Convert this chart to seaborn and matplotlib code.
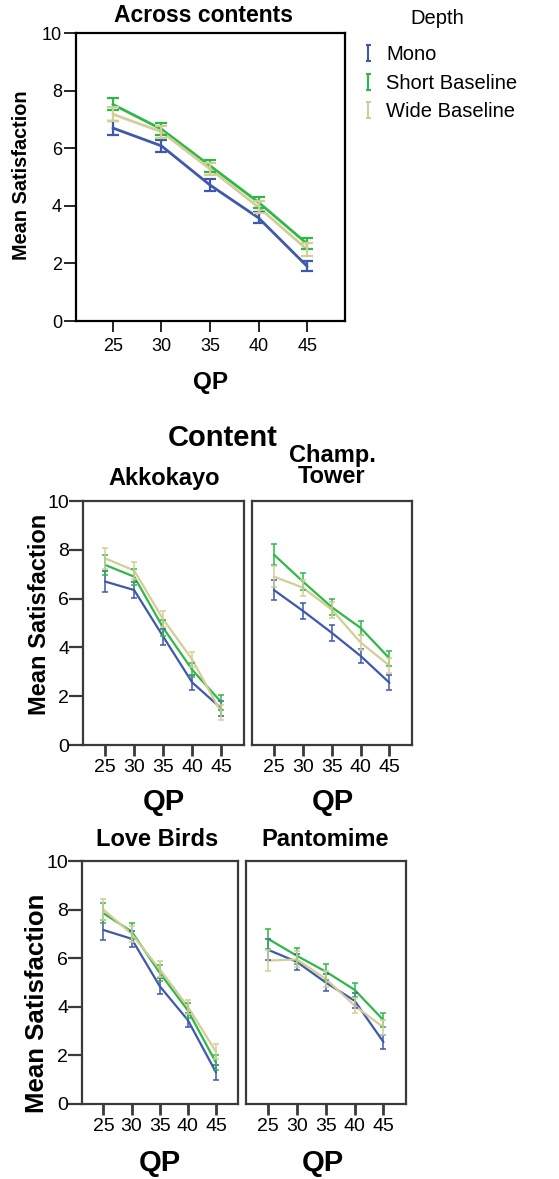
import numpy as np
import pandas as pd
import matplotlib
matplotlib.use("Agg")
import matplotlib.pyplot as plt
import seaborn as sns
from matplotlib.path import Path
from matplotlib.lines import Line2D

# ---------------- data ----------------
qp = [25, 30, 35, 40, 45]
depths = ["Mono", "Short Baseline", "Wide Baseline"]
colors = ["#3E58AC", "#2EB848", "#D3CE97"]

# Across contents
all_mono = [6.70, 6.08, 4.72, 3.58, 1.90]
all_mono_err = [0.23, 0.20, 0.20, 0.19, 0.18]
all_short = [7.52, 6.66, 5.39, 4.12, 2.68]
all_short_err = [0.21, 0.20, 0.20, 0.20, 0.19]
all_wide = [7.18, 6.57, 5.28, 3.95, 2.48]
all_wide_err = [0.25, 0.20, 0.20, 0.20, 0.22]

contents = ["Akkokayo", "Champ.\nTower", "Love Birds", "Pantomime"]

akk_mono = [6.70, 6.35, 4.44, 2.56, 1.50]
akk_short = [7.38, 6.90, 4.80, 3.08, 1.75]
akk_wide = [7.65, 7.15, 5.15, 3.50, 1.32]

champ_mono = [6.35, 5.50, 4.60, 3.65, 2.55]
champ_short = [7.80, 6.70, 5.65, 4.80, 3.55]
champ_wide = [6.90, 6.45, 5.55, 4.20, 3.25]

love_mono = [7.16, 6.80, 4.85, 3.45, 1.30]
love_short = [7.85, 7.10, 5.40, 3.85, 1.70]
love_wide = [8.00, 7.00, 5.55, 4.00, 2.15]

panto_mono = [6.35, 5.85, 5.00, 4.25, 2.55]
panto_short = [6.80, 6.10, 5.45, 4.70, 3.45]
panto_wide = [5.90, 5.95, 5.15, 4.05, 3.15]

facet_err = [0.42, 0.33, 0.33, 0.30, 0.30]

yticks = [0, 2, 4, 6, 8, 10]

# ---------------- style ----------------
sns.set_style("white")
plt.rcParams["font.family"] = ["Liberation Sans", "DejaVu Sans"]
plt.rcParams["text.color"] = "black"
plt.rcParams["axes.labelcolor"] = "black"
plt.rcParams["xtick.color"] = "black"
plt.rcParams["ytick.color"] = "black"
palette = dict(zip(depths, colors))

fig = plt.figure(figsize=(5.59, 11.79), dpi=100)
W, H = 559.0, 1179.0


def px_axes(left, top, right, bottom):
    return fig.add_axes([left / W, 1 - bottom / H, (right - left) / W, (bottom - top) / H])


def long_df(series):
    rows = []
    for name, vals in zip(depths, series):
        for q, v in zip(qp, vals):
            rows.append({"QP": q, "Satisfaction": v, "Depth": name})
    return pd.DataFrame(rows)


def draw_panel(ax, series, errs, lw, cap, elw):
    df = long_df(series)
    sns.lineplot(data=df, x="QP", y="Satisfaction", hue="Depth", hue_order=depths,
                 palette=palette, linewidth=lw, legend=False, errorbar=None, ax=ax)
    for name, vals, err in zip(depths, series, errs):
        ax.errorbar(qp, vals, yerr=err, fmt="none", ecolor=palette[name],
                    elinewidth=elw, capsize=cap, capthick=elw)
    ax.set_xlim(21.2, 48.9)
    ax.set_ylim(0, 10)
    ax.set_xticks(qp)
    ax.set_yticks(yticks)
    ax.set_xlabel("")
    ax.set_ylabel("")


# ---------------- top panel ----------------
ax0 = px_axes(76, 33, 345, 321)
draw_panel(ax0, [all_mono, all_short, all_wide],
           [all_mono_err, all_short_err, all_wide_err], lw=2.0, cap=4, elw=1.6)
for s in ax0.spines.values():
    s.set_color("black")
    s.set_linewidth(1.6)
ax0.tick_params(axis="both", direction="out", bottom=True, left=True,
                width=1.2, color="black", labelsize=13, labelcolor="black")
ax0.tick_params(axis="y", length=9, pad=1)
ax0.tick_params(axis="x", length=8, pad=4)

fig.text(203 / W, 1 - 15 / H, "Across contents", ha="center", va="center",
         fontsize=16.5, fontweight="bold")
fig.text(22 / W, 1 - 175 / H, "Mean Satisfaction", ha="center", va="center",
         rotation=90, fontsize=14.3, fontweight="bold")
fig.text(210 / W, 1 - 382 / H, "QP", ha="center", va="center",
         fontsize=17.5, fontweight="bold")

# legend with error-bar glyphs
ibar = Path([(-0.3, -1), (0.3, -1), (0, -1), (0, 1), (-0.3, 1), (0.3, 1)],
            [Path.MOVETO, Path.LINETO, Path.MOVETO, Path.LINETO, Path.MOVETO, Path.LINETO])
handles = [Line2D([], [], linestyle="none", marker=ibar, markersize=12,
                  markeredgewidth=1.5, markeredgecolor=c, color=c) for c in colors]
fig.text(437 / W, 1 - 18 / H, "Depth", ha="center", va="center", fontsize=14.5)
leg = fig.legend(handles, depths, loc="upper left",
                 bbox_to_anchor=(360 / W, 1 - 45.5 / H), frameon=False,
                 fontsize=14.5, handlelength=0.8,
                 handletextpad=0.5, labelspacing=0.45, borderpad=0, borderaxespad=0)

# ---------------- facet panels ----------------
boxes = [(83, 501, 244, 745), (252, 501, 412, 745),
         (82, 861, 238, 1104), (246, 861, 406, 1104)]
facet_series = [[akk_mono, akk_short, akk_wide],
                [champ_mono, champ_short, champ_wide],
                [love_mono, love_short, love_wide],
                [panto_mono, panto_short, panto_wide]]

for i, (box, series) in enumerate(zip(boxes, facet_series)):
    ax = px_axes(*box)
    draw_panel(ax, series, [facet_err] * 3, lw=1.6, cap=2, elw=1.1)
    for s in ax.spines.values():
        s.set_color("#3a3a3a")
        s.set_linewidth(1.6)
    ax.tick_params(axis="x", direction="out", bottom=True, length=8, width=2,
                   color="#3a3a3a", labelsize=14, pad=2, labelcolor="black")
    if i % 2 == 0:
        ax.tick_params(axis="y", direction="out", left=True, length=10, width=1.6,
                       color="#3a3a3a", labelsize=14, pad=0, labelcolor="black")
    else:
        ax.tick_params(axis="y", left=False, labelleft=False)

fig.text(223 / W, 1 - 438 / H, "Content", ha="center", va="center",
         fontsize=21, fontweight="bold")
title_pos = [(164, 479), (332, 466), (157, 839), (325, 839)]
for name, (x, y) in zip(contents, title_pos):
    fig.text(x / W, 1 - y / H, name, ha="center", va="center", fontsize=17,
             fontweight="bold", linespacing=0.93)

fig.text(40 / W, 1 - 614 / H, "Mean Satisfaction", ha="center", va="center",
         rotation=90, fontsize=17, fontweight="bold")
fig.text(37 / W, 1 - 1003 / H, "Mean Satisfaction", ha="center", va="center",
         rotation=90, fontsize=18.5, fontweight="bold")
for x, y in [(164, 802), (333, 802), (160, 1163), (323, 1163)]:
    fig.text(x / W, 1 - y / H, "QP", ha="center", va="center",
             fontsize=21, fontweight="bold")

fig.savefig("out.png", dpi=100)
